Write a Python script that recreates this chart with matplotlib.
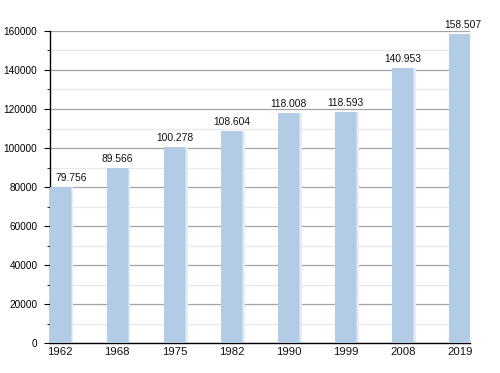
import matplotlib
matplotlib.use("Agg")
import matplotlib.pyplot as plt
from matplotlib.ticker import MultipleLocator

years = ["1962", "1968", "1975", "1982", "1990", "1999", "2008", "2019"]
population = [79756, 89566, 100278, 108604, 118008, 118593, 140953, 158507]

plt.rcParams['font.family'] = ['Liberation Sans', 'DejaVu Sans']

fig = plt.figure(figsize=(5, 3.73), dpi=100)
ax = fig.add_axes([0.1, 0.0804, 0.84, 0.8365])

x = list(range(len(years)))
bw = 0.36
# soft right-hand fade of each bar
ax.bar([xi + 0.05 for xi in x], population, width=bw, color="#e4edf7", zorder=2)
ax.bar([xi + 0.025 for xi in x], population, width=bw, color="#cddcee", zorder=2.5)
ax.bar(x, population, width=bw, color="#b3cce6", zorder=3)
for i, (xi, v) in enumerate(zip(x, population)):
    lbl = f"{v:,}".replace(",", ".")
    if i == 0:
        ax.annotate(lbl, (xi - bw / 2, v), xytext=(4, 3), textcoords="offset points",
                    ha="left", va="bottom", fontsize=7.4, color="#111111", zorder=4)
    elif i == len(x) - 1:
        ax.annotate(lbl, (xi, v), xytext=(2, 3), textcoords="offset points",
                    ha="center", va="bottom", fontsize=7.4, color="#111111", zorder=4)
    else:
        ax.annotate(lbl, (xi, v), xytext=(0, 3), textcoords="offset points",
                    ha="center", va="bottom", fontsize=7.4, color="#111111", zorder=4)

ax.set_xlim(-bw / 2, len(years) - 1 + bw / 2)
ax.set_ylim(0, 160000)
ax.set_xticks(x)
ax.set_xticklabels(years)
ax.yaxis.set_major_locator(MultipleLocator(20000))
ax.yaxis.set_minor_locator(MultipleLocator(10000))
ax.grid(axis="y", which="major", color="#a4a4a4", linewidth=0.9, zorder=0)
ax.grid(axis="y", which="minor", color="#e8e8e8", linewidth=0.9, zorder=0)
for s in ["top", "right"]:
    ax.spines[s].set_visible(False)
ax.spines["left"].set_linewidth(1.0)
ax.spines["bottom"].set_linewidth(1.0)
ax.tick_params(axis="y", which="major", length=4, labelsize=7.2, direction="out", pad=5)
ax.tick_params(axis="y", which="minor", length=2)
ax.tick_params(axis="x", length=0, labelsize=8.2, pad=3, labelcolor="#111111")

fig.savefig("out.png", dpi=100)
